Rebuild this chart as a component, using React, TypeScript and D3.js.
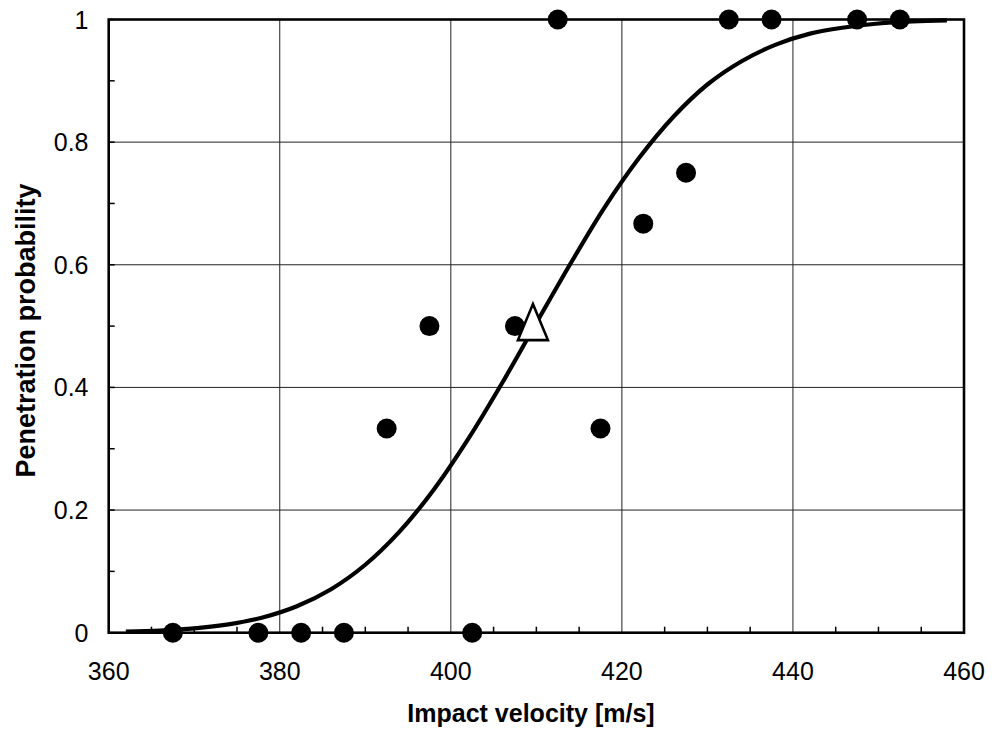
import React from "react";
import * as d3 from "d3";

// Observed data points (impact velocity [m/s], penetration probability)
const pointVelocity = [367.5, 377.5, 382.5, 387.5, 402.5, 392.5, 397.5, 407.5, 412.5, 417.5, 422.5, 427.5, 432.5, 437.5, 447.5, 452.5];
const pointProbability = [0, 0, 0, 0, 0, 0.333, 0.5, 0.5, 1, 0.333, 0.667, 0.75, 1, 1, 1, 1];

// V50 marker
const v50Velocity = [409.6];
const v50Probability = [0.5];

// Fitted curve
const curveVelocity = [362, 366, 370, 374, 378, 382, 386, 390, 394, 398, 402, 406, 410, 414, 418, 422, 426, 430, 434, 438, 442, 446, 450, 454, 458];
const curveProbability = [0.0016, 0.0035, 0.007, 0.0136, 0.0248, 0.0431, 0.0709, 0.1108, 0.1648, 0.2332, 0.3152, 0.4072, 0.505, 0.602, 0.694, 0.774, 0.841, 0.894, 0.932, 0.959, 0.977, 0.987, 0.9935, 0.9968, 0.9985];

const xMajorTicks = [360, 380, 400, 420, 440, 460];
const xMinorTicks = [365, 370, 375, 385, 390, 395, 405, 410, 415, 425, 430, 435, 445, 450, 455];
const yMajorTicks = [0, 0.2, 0.4, 0.6, 0.8, 1];
const yMinorTicks = [0.1, 0.3, 0.5, 0.7, 0.9];
const yTickLabels = ["0", "0.2", "0.4", "0.6", "0.8", "1"];

const xTitle = "Impact velocity [m/s]";
const yTitle = "Penetration probability";

export default function App() {
  const W = 996, H = 729;
  const left = 108.7, right = 964, top = 19.5, bottom = 632.7;
  const x = d3.scaleLinear().domain([360, 460]).range([left, right]);
  const y = d3.scaleLinear().domain([0, 1]).range([bottom, top]);
  const font = "Liberation Sans, Arial, sans-serif";

  const curveData = curveVelocity.map((v, i) => [v, curveProbability[i]] as [number, number]);
  const line = d3.line<[number, number]>().x(d => x(d[0])).y(d => y(d[1])).curve(d3.curveCatmullRom.alpha(0.5));

  const tickLen = 6;

  return (
    <svg width={W} height={H} style={{ position: "absolute", left: 0, top: 0, background: "#fff" }}>
      <rect x={0} y={0} width={W} height={H} fill="#fff" />
      {/* grid */}
      {xMajorTicks.slice(1, -1).map(t => (
        <line key={"gx" + t} x1={x(t)} x2={x(t)} y1={top} y2={bottom} stroke="#222" strokeWidth={1} />
      ))}
      {yMajorTicks.slice(1, -1).map(t => (
        <line key={"gy" + t} x1={left} x2={right} y1={y(t)} y2={y(t)} stroke="#222" strokeWidth={1} />
      ))}
      {/* minor ticks */}
      {xMinorTicks.map(t => (
        <line key={"mx" + t} x1={x(t)} x2={x(t)} y1={bottom} y2={bottom - tickLen} stroke="#000" strokeWidth={1.5} />
      ))}
      {yMinorTicks.map(t => (
        <line key={"my" + t} x1={left} x2={left + tickLen} y1={y(t)} y2={y(t)} stroke="#000" strokeWidth={1.5} />
      ))}
      {yMajorTicks.map(t => (
        <line key={"My" + t} x1={left} x2={left + tickLen} y1={y(t)} y2={y(t)} stroke="#000" strokeWidth={1.5} />
      ))}
      {/* frame */}
      <rect x={left} y={top} width={right - left} height={bottom - top} fill="none" stroke="#000" strokeWidth={2.6} />
      {/* curve */}
      <path d={line(curveData) || ""} fill="none" stroke="#000" strokeWidth={4.2} strokeLinecap="butt" />
      {/* points */}
      {pointVelocity.map((v, i) => (
        <circle key={"p" + i} cx={x(v)} cy={y(pointProbability[i])} r={10} fill="#000" />
      ))}
      {/* V50 triangle */}
      {v50Velocity.map((v, i) => {
        const cx = x(v), cy = y(v50Probability[i]);
        const d = `M${cx},${cy - 22} L${cx + 15},${cy + 14} L${cx - 15},${cy + 14} Z`;
        return <path key={"t" + i} d={d} fill="#fff" stroke="#000" strokeWidth={2.6} strokeLinejoin="miter" />;
      })}
      {/* tick labels */}
      {xMajorTicks.map(t => (
        <text key={"xl" + t} x={x(t)} y={680} textAnchor="middle" fontFamily={font} fontSize={25} fill="#000">{t}</text>
      ))}
      {yMajorTicks.map((t, i) => (
        <text key={"yl" + t} x={88.5} y={y(t) + 9} textAnchor="end" fontFamily={font} fontSize={25} fill="#000">{yTickLabels[i]}</text>
      ))}
      {/* titles */}
      <text x={531} y={722} textAnchor="middle" fontFamily={font} fontSize={25} fontWeight="bold" fill="#000">{xTitle}</text>
      <text transform={`translate(35,330.5) rotate(-90)`} textAnchor="middle" fontFamily={font} fontSize={27} fontWeight="bold" fill="#000">{yTitle}</text>
    </svg>
  );
}
